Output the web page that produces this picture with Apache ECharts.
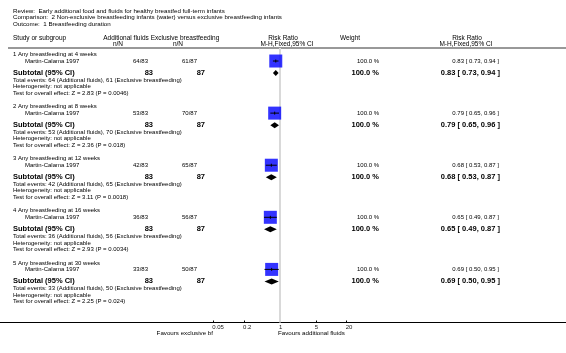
<!DOCTYPE html>
<html>
<head>
<meta charset="utf-8">
<script src="https://cdn.jsdelivr.net/npm/echarts@6/dist/echarts.min.js"></script>
<style>
  html, body { margin: 0; padding: 0; background: #fff; }
  #main { width: 566px; height: 353px; }
</style>
</head>
<body>
<div id="main"></div>
<script>
// forest plot data
var subgroups = [
  '1 Any breastfeeding at 4 weeks',
  '2 Any breastfeeding at 8 weeks',
  '3 Any breastfeeding at 12 weeks',
  '4 Any breastfeeding at 16 weeks',
  '5 Any breastfeeding at 30 weeks'
];
var studyNames = ['Martin-Calama 1997', 'Martin-Calama 1997', 'Martin-Calama 1997', 'Martin-Calama 1997', 'Martin-Calama 1997'];
var addEvents = [64, 53, 42, 36, 33];
var addTotal = [83, 83, 83, 83, 83];
var exclEvents = [61, 70, 65, 56, 50];
var exclTotal = [87, 87, 87, 87, 87];
var rr = [0.83, 0.79, 0.68, 0.65, 0.69];
var ciLow = [0.73, 0.65, 0.53, 0.49, 0.50];
var ciHigh = [0.94, 0.96, 0.87, 0.87, 0.95];
var weights = [100, 100, 100, 100, 100];
var zValues = ['2.83', '2.36', '3.11', '2.93', '2.25'];
var pValues = ['0.0046', '0.018', '0.0018', '0.0034', '0.024'];
var xTicks = [0.05, 0.2, 1, 5, 20];

// layout
var FONT = '"Liberation Sans", Arial, sans-serif';
var xRange = [-5.46, 5.58]; // log10 RR at the left / right edge of the panel
var groupStart = 6.5, groupGap = 52;
var rowOff = { title: 0, study: 6.5, subtotal: 18.5, events: 25.5, het: 32, test: 38.5 };
function rowY(k, key) { return groupStart + k * groupGap + rowOff[key]; }
function lg(v) { return Math.log10(v); }
function fmt2(v) { return v.toFixed(2); }

var chart = echarts.init(document.getElementById('main'));

var squareData = [], ciData = [], diamondData = [];
rr.forEach(function (v, k) {
  squareData.push([lg(v), rowY(k, 'study')]);
  ciData.push([lg(ciLow[k]), lg(ciHigh[k]), lg(v), rowY(k, 'study')]);
  diamondData.push([lg(ciLow[k]), lg(ciHigh[k]), lg(v), rowY(k, 'subtotal')]);
});

chart.setOption({
  animation: false,
  grid: { left: 0, right: 0, top: 48, bottom: 30.5 },
  xAxis: {
    type: 'value', min: xRange[0], max: xRange[1],
    splitLine: { show: false },
    axisLine: { onZero: false, lineStyle: { color: '#000', width: 1 } },
    axisTick: { show: true, inside: true, length: 2, lineStyle: { color: '#000' }, customValues: xTicks.map(lg) },
    axisLabel: {
      customValues: xTicks.map(lg), margin: 2, align: 'left', padding: [0, 0, 0, -1],
      fontSize: 6, fontFamily: FONT, color: '#222',
      formatter: function (v) {
        var t = xTicks.filter(function (x) { return Math.abs(lg(x) - v) < 1e-6; })[0];
        return t === undefined ? '' : String(t);
      }
    }
  },
  yAxis: {
    type: 'value', inverse: true, min: 0, max: 274, show: false
  },
  series: [
    {
      type: 'scatter', symbol: 'rect', symbolSize: [13, 13],
      itemStyle: { color: '#0000ff' }, data: squareData, z: 3,
      markLine: {
        silent: true, symbol: 'none', label: { show: false },
        lineStyle: { color: '#d9d9d9', width: 2, type: 'solid' },
        data: [{ xAxis: lg(1) }], z: 1
      }
    },
    {
      type: 'custom', z: 4, data: ciData,
      encode: { x: [0, 1, 2], y: 3 },
      renderItem: function (params, api) {
        var a = api.coord([api.value(0), api.value(3)]);
        var b = api.coord([api.value(1), api.value(3)]);
        var c = api.coord([api.value(2), api.value(3)]);
        return {
          type: 'group', children: [
            { type: 'line', shape: { x1: a[0], y1: a[1], x2: b[0], y2: b[1] }, style: { stroke: '#000', lineWidth: 1 } },
            { type: 'line', shape: { x1: c[0], y1: c[1] - 1.5, x2: c[0], y2: c[1] + 1.5 }, style: { stroke: '#000', lineWidth: 1 } }
          ]
        };
      }
    },
    {
      type: 'custom', z: 4, data: diamondData,
      encode: { x: [0, 1, 2], y: 3 },
      renderItem: function (params, api) {
        var a = api.coord([api.value(0), api.value(3)]);
        var b = api.coord([api.value(1), api.value(3)]);
        var c = api.coord([api.value(2), api.value(3)]);
        var h = 3;
        return {
          type: 'polygon',
          shape: { points: [[a[0], a[1]], [c[0], c[1] - h], [b[0], b[1]], [c[0], c[1] + h]] },
          style: { fill: '#000' }
        };
      }
    }
  ]
});

// table text
var g = [];
function txt(s, x, y, size, opts) {
  opts = opts || {};
  g.push({
    type: 'text', x: x, y: y, silent: true,
    style: {
      text: s, fill: opts.color || '#000',
      font: (opts.bold ? 'bold ' : '') + size + 'px ' + FONT,
      align: opts.align || 'left', verticalAlign: 'middle'
    }
  });
}
function py(v) { return chart.convertToPixel({ yAxisIndex: 0 }, v); }

// header rule
g.push({ type: 'line', silent: true, shape: { x1: 8, y1: 48, x2: 566, y2: 48 }, style: { stroke: '#333', lineWidth: 1 } });

txt('Review:  Early additional food and fluids for healthy breastfed full-term infants', 13, 11, 6.2);
txt('Comparison:  2 Non-exclusive breastfeeding infants (water) versus exclusive breastfeeding infants', 13, 17.5, 6.2);
txt('Outcome:  1 Breastfeeding duration', 13, 24, 6.2);

txt('Study or subgroup', 13, 38, 6.5);
txt('Additional fluids', 126, 38, 6.5, { align: 'center' });
txt('n/N', 118, 44, 6.5, { align: 'center' });
txt('Exclusive breastfeeding', 185, 38, 6.5, { align: 'center' });
txt('n/N', 178, 44, 6.5, { align: 'center' });
txt('Risk Ratio', 283, 38, 6.5, { align: 'center' });
txt('M-H,Fixed,95% CI', 287, 44, 6.5, { align: 'center' });
txt('Weight', 350, 38, 6.5, { align: 'center' });
txt('Risk Ratio', 467, 38, 6.5, { align: 'center' });
txt('M-H,Fixed,95% CI', 466, 44, 6.5, { align: 'center' });

subgroups.forEach(function (name, k) {
  txt(name, 13, py(rowY(k, 'title')), 6);
  txt(studyNames[k], 25, py(rowY(k, 'study')), 6);
  txt(addEvents[k] + '/' + addTotal[k], 148, py(rowY(k, 'study')), 6, { align: 'right' });
  txt(exclEvents[k] + '/' + exclTotal[k], 197, py(rowY(k, 'study')), 6, { align: 'right' });
  txt(weights[k].toFixed(1) + ' %', 379, py(rowY(k, 'study')), 6, { align: 'right' });
  txt(fmt2(rr[k]) + ' [ ' + fmt2(ciLow[k]) + ', ' + fmt2(ciHigh[k]) + ' ]', 499, py(rowY(k, 'study')), 6, { align: 'right' });

  var ys = py(rowY(k, 'subtotal'));
  txt('Subtotal (95% CI)', 13, ys, 7.5, { bold: true });
  txt(String(addTotal[k]), 153, ys, 7.5, { bold: true, align: 'right' });
  txt(String(exclTotal[k]), 205, ys, 7.5, { bold: true, align: 'right' });
  txt(weights[k].toFixed(1) + ' %', 379, ys, 7.5, { bold: true, align: 'right' });
  txt(fmt2(rr[k]) + ' [ ' + fmt2(ciLow[k]) + ', ' + fmt2(ciHigh[k]) + ' ]', 500, ys, 7.5, { bold: true, align: 'right' });

  txt('Total events: ' + addEvents[k] + ' (Additional fluids), ' + exclEvents[k] + ' (Exclusive breastfeeding)', 13, py(rowY(k, 'events')), 6);
  txt('Heterogeneity: not applicable', 13, py(rowY(k, 'het')), 6);
  txt('Test for overall effect: Z = ' + zValues[k] + ' (P = ' + pValues[k] + ')', 13, py(rowY(k, 'test')), 6);
});

txt('Favours exclusive bf', 213, 333, 6.2, { align: 'right' });
txt('Favours additional fluids', 278, 333, 6.2);

chart.setOption({ graphic: g });
</script>
</body>
</html>
